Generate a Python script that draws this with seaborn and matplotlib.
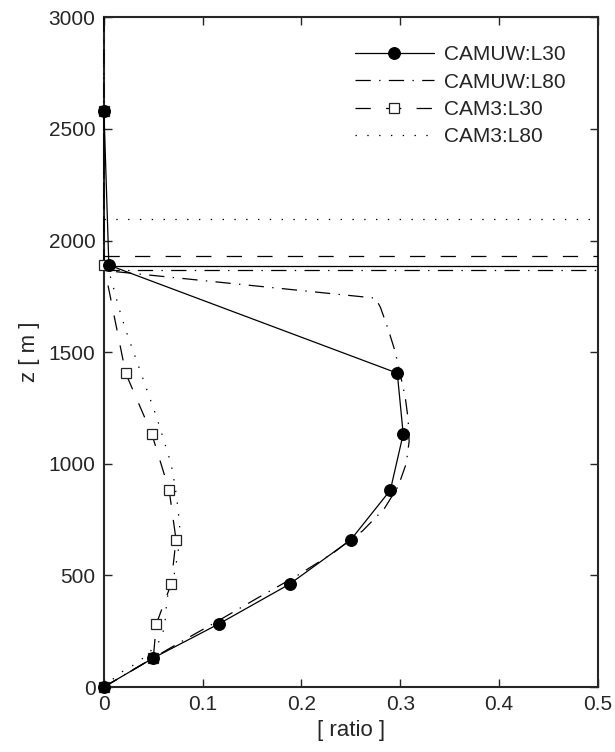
import matplotlib
matplotlib.use("Agg")
import matplotlib.pyplot as plt
import seaborn as sns
import pandas as pd
import numpy as np

# ---------------- data ----------------
labels = ["CAMUW:L30", "CAMUW:L80", "CAM3:L30", "CAM3:L80"]

z_l30 = [0, 130, 282, 461, 660, 882, 1133, 1406, 1890, 2580]
camuw_l30 = [0.0, 0.050, 0.116, 0.188, 0.250, 0.290, 0.303, 0.297, 0.005, 0.0]
cam3_l30 = [0.0, 0.050, 0.053, 0.068, 0.073, 0.066, 0.0485, 0.022, 0.0, 0.0]

z_camuw_l80 = [0, 100, 200, 300, 400, 500, 600, 700, 800, 900, 1000, 1100,
               1200, 1300, 1400, 1500, 1600, 1700, 1742, 1866, 2600, 3000]
camuw_l80 = [0.0, 0.038, 0.077, 0.117, 0.156, 0.196, 0.232, 0.262, 0.284,
             0.298, 0.306, 0.309, 0.308, 0.305, 0.300, 0.295, 0.288, 0.280,
             0.275, 0.0, 0.0, 0.0]

z_cam3_l80 = [0, 35, 65, 90, 120, 150, 215, 250, 300, 400, 500, 600, 700,
              800, 900, 1000, 1100, 1200, 1300, 1400, 1500, 1600, 1700,
              1800, 1860, 1900, 3000]
cam3_l80 = [0.0, 0.009, 0.017, 0.027, 0.037, 0.045, 0.058, 0.060, 0.062,
            0.064, 0.071, 0.075, 0.077, 0.075, 0.072, 0.068, 0.061, 0.054,
            0.046, 0.038, 0.030, 0.022, 0.015, 0.009, 0.005, 0.0, 0.0]

pbl_heights = [1888, 1866, 1931, 2096]   # same order as labels

x_ticks = [0, 0.1, 0.2, 0.3, 0.4, 0.5]
x_ticklabels = ["0", "0.1", "0.2", "0.3", "0.4", "0.5"]
y_ticks = [0, 500, 1000, 1500, 2000, 2500, 3000]

# ---------------- style ----------------
sns.set_style("ticks")
plt.rcParams["font.family"] = ["Liberation Sans", "DejaVu Sans"]
plt.rcParams["lines.scale_dashes"] = False

fig = plt.figure(figsize=(6.15, 7.52), dpi=100)
ax = fig.add_axes([0.169, 0.0864, 0.803, 0.8906])

styles = {
    "CAMUW:L30": dict(linestyle="-", marker="o", markersize=8.5,
                      markerfacecolor="black", markeredgecolor="black",
                      zorder=5),
    "CAMUW:L80": dict(linestyle=(0, (11, 6, 1, 6)), zorder=3),
    "CAM3:L30": dict(linestyle=(0, (11, 11)), marker="s", markersize=7,
                     markerfacecolor="white", markeredgecolor="#222222",
                     markeredgewidth=0.9, zorder=4),
    "CAM3:L80": dict(linestyle=(0, (1, 7.5)), zorder=3),
}
series = {
    "CAMUW:L30": (camuw_l30, z_l30),
    "CAMUW:L80": (camuw_l80, z_camuw_l80),
    "CAM3:L30": (cam3_l30, z_l30),
    "CAM3:L80": (cam3_l80, z_cam3_l80),
}

for name in labels:
    xv, zv = series[name]
    df = pd.DataFrame({"ratio": xv, "z": zv})
    sns.lineplot(data=df, x="ratio", y="z", sort=False, estimator=None,
                 ax=ax, color="black", linewidth=0.9, label=name,
                 clip_on=False, **styles[name])

# PBL height lines
for name, h in zip(labels, pbl_heights):
    st = styles[name]
    ax.hlines(h, 0, 0.5, colors="black", linewidth=0.9,
              linestyles=[st["linestyle"]], zorder=2)

ax.set_xlim(0, 0.5)
ax.set_ylim(0, 3000)
ax.set_xticks(x_ticks)
ax.set_xticklabels(x_ticklabels)
ax.set_yticks(y_ticks)
ax.tick_params(direction="in", top=True, right=True, length=6,
               width=1.0, labelsize=15, pad=6)
for sp in ax.spines.values():
    sp.set_linewidth(1.5)
    sp.set_visible(True)
    sp.set_zorder(1)

ax.set_xlabel("[ ratio ]", fontsize=16, labelpad=4)
ax.set_ylabel("z [ m ]", fontsize=16, labelpad=6)

leg = ax.legend(loc="upper right", frameon=False, fontsize=15,
                handlelength=3.8, handletextpad=0.5, labelspacing=0.4,
                bbox_to_anchor=(0.965, 0.98), borderaxespad=0.3)

fig.savefig("out.png", dpi=100)
